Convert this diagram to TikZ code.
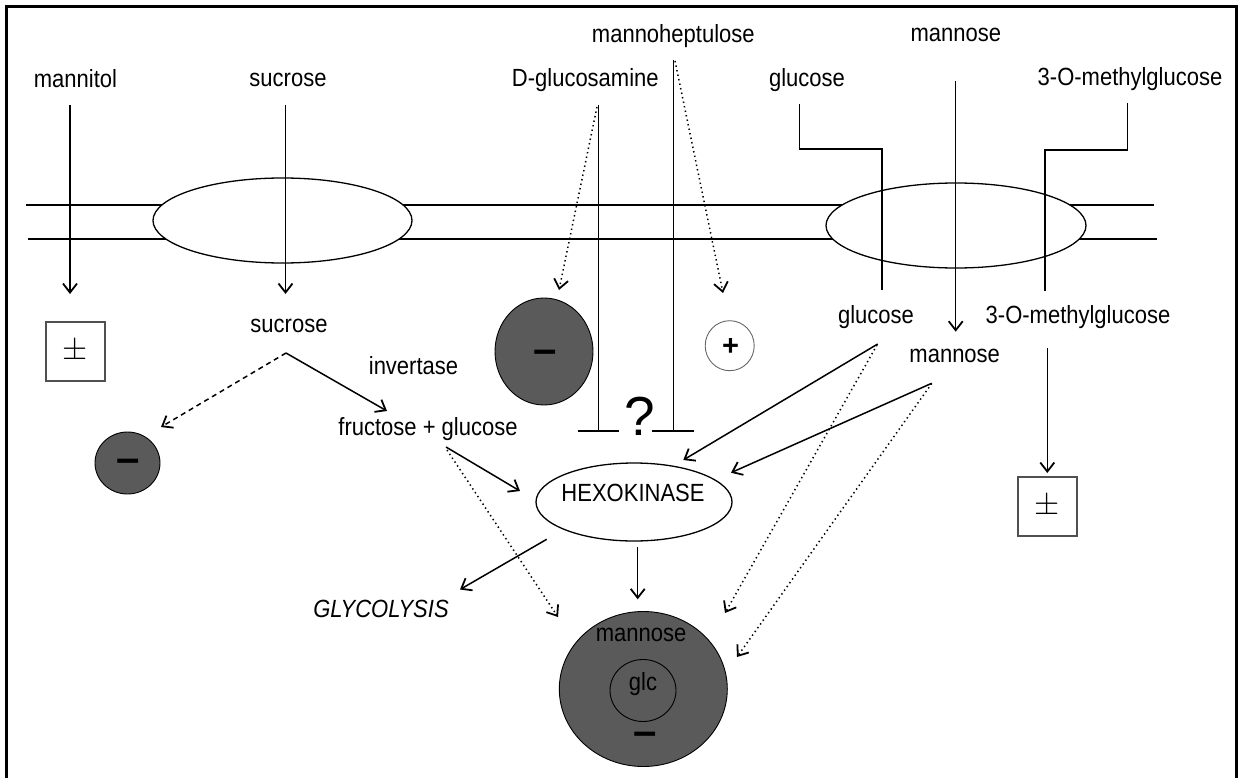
\documentclass[tikz,border=0pt]{standalone}
\usepackage{graphicx}
\usepackage{fontspec}
\setmainfont{Liberation Sans}
\usetikzlibrary{arrows.meta,shapes.geometric}
\definecolor{darkfill}{RGB}{90,90,90}
\definecolor{boxline}{RGB}{80,80,80}
\newcommand\stretchtxt[1]{\scalebox{1}[1.13]{#1}}
\newcommand\bigpm{\scalebox{1.3}{$\pm$}}
\begin{document}
\begin{tikzpicture}[x=1pt,y=-1pt,
  lbl/.style={inner sep=0pt,anchor=base,font=\fontsize{22}{26}\selectfont},
  ln/.style={line width=1.5pt,line cap=butt},
  arr/.style={ln,-{Straight Barb[length=9pt,width=14pt,line width=1.8pt]}},
  dotarr/.style={arr,dash pattern=on 1.4pt off 3.2pt},
  dasharr/.style={arr,dash pattern=on 5pt off 4pt},
  pore/.style={ellipse,draw,fill=white,line width=1.3pt,inner sep=0pt,minimum width=259pt,minimum height=85pt},
  darkblob/.style={ellipse,draw,fill=darkfill,line width=0.9pt,inner sep=0pt},
  minussign/.style={inner sep=0pt,anchor=base,font=\fontsize{42}{42}\selectfont\bfseries},
  pmbox/.style={rectangle,draw=boxline,line width=1.3pt,minimum width=59pt,minimum height=59pt,inner sep=0pt,font=\fontsize{24.88}{28}\selectfont},
]
\useasboundingbox (0,0) rectangle (1238,778);
% frame
\draw[line width=2.5pt] (6.7,778) -- (6.7,6.7) -- (1236.5,6.7) -- (1236.5,778);

% membrane
\coordinate (mUL) at (26,205); \coordinate (mUR) at (1154,205);
\coordinate (mLL) at (28,239); \coordinate (mLR) at (1157,239);
\draw[ln] (mUL) -- (mUR);
\draw[ln] (mLL) -- (mLR);
\node[pore] (poreL) at (282.5,220.5) {};
\node[pore,minimum width=260pt] (poreR) at (956,225.5) {};

% top labels
\node[lbl] (tMannitol) at (75.5,87.3) {\stretchtxt{mannitol}};
\node[lbl] (tSucrose) at (288,87) {\stretchtxt{sucrose}};
\node[lbl] (tGlucosamine) at (585.3,86.7) {\stretchtxt{D-glucosamine}};
\node[lbl] (tHeptulose) at (673.3,42.7) {\stretchtxt{mannoheptulose}};
\node[lbl] (tGlucose) at (807,87) {\stretchtxt{glucose}};
\node[lbl] (tMannose) at (955.8,41.7) {\stretchtxt{mannose}};
\node[lbl] (tOMG) at (1130,86) {\stretchtxt{3-O-methylglucose}};

% inner labels
\node[lbl] (iSucrose) at (289,332.7) {\stretchtxt{sucrose}};
\node[lbl] (iInvertase) at (413.5,374.3) {\stretchtxt{invertase}};
\node[lbl] (iFG) at (428,435.7) {\stretchtxt{fructose + glucose}};
\node[lbl] (iGlucose) at (876,323) {\stretchtxt{glucose}};
\node[lbl] (iMannose) at (954.7,362.3) {\stretchtxt{mannose}};
\node[lbl] (iOMG) at (1078,323) {\stretchtxt{3-O-methylglucose}};
\node[lbl,font=\fontsize{22}{26}\selectfont\itshape] (iGly) at (381,617.3) {\stretchtxt{GLYCOLYSIS}};

% boxes
\node[pmbox] (pmL) at (75.5,351.5) {\bigpm};
\node[pmbox] (pmR) at (1047.5,506.5) {\bigpm};

% dark blobs
\node[darkblob,minimum width=65pt,minimum height=62pt] (blobS) at (127.5,463) {};
\node[minussign] (minusS) at (128,472.5) {–};
\node[darkblob,minimum width=98pt,minimum height=107pt] (blobG) at (544,351.5) {};
\node[minussign] (minusG) at (545,363.5) {–};
\node[ellipse,draw=black!60,line width=0.9pt,inner sep=0pt,minimum width=49pt,minimum height=50pt] (plusC) at (729.7,345.7) {};
\node[inner sep=0pt,anchor=base,font=\fontsize{29}{29}\selectfont\bfseries] (plusS) at (730.5,355) {+};

% hexokinase
\node[ellipse,draw,line width=1.3pt,inner sep=0pt,minimum width=196pt,minimum height=78pt] (hexo) at (634,502) {};
\node[lbl] (hexoT) at (633,501.7) {\stretchtxt{HEXOKINASE}};

% bottom circle
\node[darkblob,minimum width=168pt,minimum height=155pt] (bigC) at (643.3,689) {};
\node[ellipse,draw,line width=0.9pt,inner sep=0pt,minimum width=66pt,minimum height=62pt] (glcC) at (643,690.5) {};
\node[lbl] (bigMannose) at (641,641.7) {\stretchtxt{mannose}};
\node[lbl] (glcT) at (643,690.7) {\stretchtxt{glc}};
\node[minussign] (minusB) at (645,745) {–};

% question mark
\node[inner sep=0pt,anchor=base,font=\fontsize{55}{60}\selectfont] (qm) at (640,435) {?};

% --- connectors ---
\coordinate (a1s) at (70,105); \coordinate (a1e) at (70,294);
\draw[arr] (a1s) -- (a1e);
\coordinate (a2s) at (285.5,105); \coordinate (a2e) at (285.5,294);
\draw[arr] (a2s) -- (a2e);

% D-glucosamine
\coordinate (g1s) at (598.3,105); \coordinate (g1e) at (598.3,431);
\coordinate (g1a) at (577.7,431); \coordinate (g1b) at (619.3,431);
\draw[ln] (g1s) -- (g1e);
\draw[ln] (g1a) -- (g1b);
\coordinate (g2s) at (597,107); \coordinate (g2e) at (559,290);
\draw[dotarr] (g2s) -- (g2e);

% mannoheptulose
\coordinate (h1s) at (673.3,60); \coordinate (h1e) at (673.3,431);
\coordinate (h1a) at (651.7,431); \coordinate (h1b) at (694.3,431);
\draw[ln] (h1s) -- (h1e);
\draw[ln] (h1a) -- (h1b);
\coordinate (h2s) at (675,61); \coordinate (h2e) at (723,293);
\draw[dotarr] (h2s) -- (h2e);

% glucose elbow
\coordinate (e1s) at (799.3,104); \coordinate (e1e) at (882,290);
\draw[ln] (e1s) -- (799.3,149) -- (882,149) -- (e1e);
% mannose
\coordinate (mas) at (955.7,81); \coordinate (mae) at (955.7,331.7);
\draw[arr] (mas) -- (mae);
% 3-OMG elbow
\coordinate (o1s) at (1127.3,103); \coordinate (o1e) at (1045,291);
\draw[ln] (o1s) -- (1127.3,150) -- (1045,150) -- (o1e);

% sucrose fork
\coordinate (fork) at (286,353);
\coordinate (forkA) at (387,411); \coordinate (forkB) at (161,427);
\draw[arr] (fork) -- (forkA);
\draw[dasharr] (fork) -- (forkB);

% fructose+glucose
\coordinate (fg1) at (446,447); \coordinate (fg1e) at (520,491);
\draw[arr] (fg1) -- (fg1e);
\coordinate (fg2) at (447,450); \coordinate (fg2e) at (558,617);
\draw[dotarr] (fg2) -- (fg2e);

% glucose / mannose to hexokinase
\coordinate (gl1) at (877.7,344); \coordinate (gl1e) at (683.3,460);
\draw[arr] (gl1) -- (gl1e);
\coordinate (mn1) at (931.7,383.3); \coordinate (mn1e) at (731,472.7);
\draw[arr] (mn1) -- (mn1e);
\coordinate (gl2) at (877,345); \coordinate (gl2e) at (725,613);
\draw[dotarr] (gl2) -- (gl2e);
\coordinate (mn2) at (931.7,383.5); \coordinate (mn2e) at (737,657);
\draw[dotarr] (mn2) -- (mn2e);

% 3-OMG to box
\coordinate (om1) at (1047.3,348.3); \coordinate (om1e) at (1047.3,473);
\draw[arr] (om1) -- (om1e);

% hexokinase outputs
\coordinate (hx1) at (546.7,539.3); \coordinate (hx1e) at (460,589.5);
\draw[arr] (hx1) -- (hx1e);
\coordinate (hx2) at (637.7,546.7); \coordinate (hx2e) at (637.7,599.3);
\draw[arr] (hx2) -- (hx2e);
\end{tikzpicture}
\end{document}
